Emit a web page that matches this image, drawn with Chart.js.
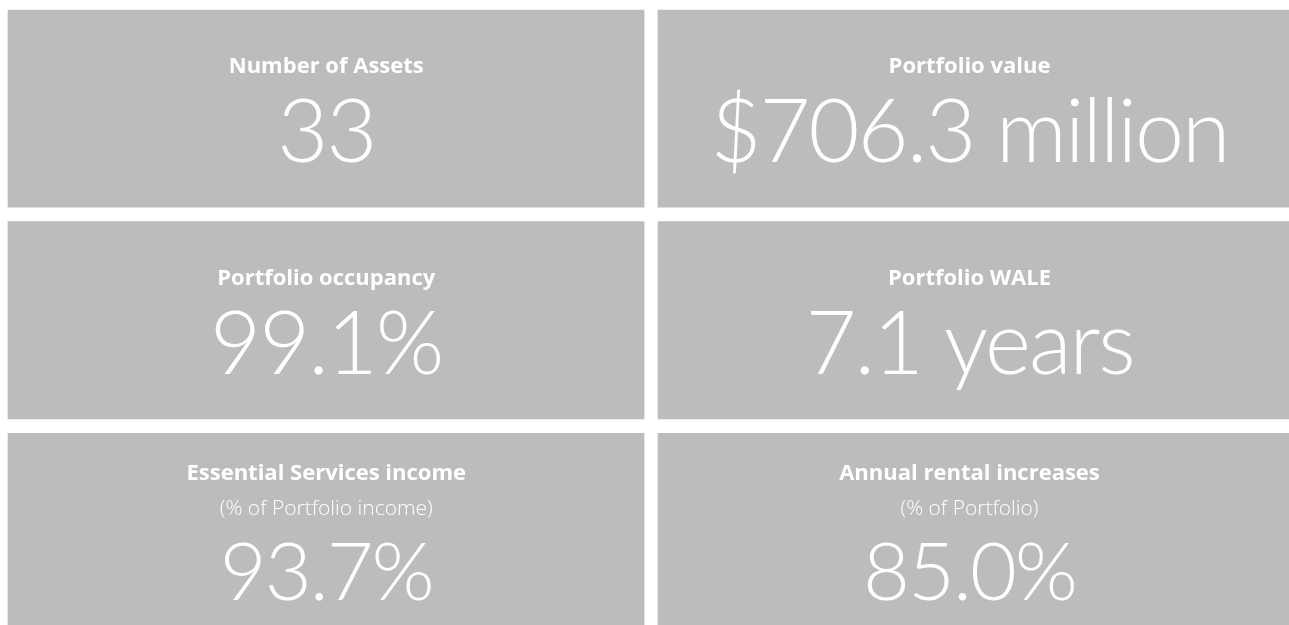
<!DOCTYPE html>
<html>
<head>
<meta charset="utf-8">
<script src="https://cdn.jsdelivr.net/npm/chart.js@4.4.1/dist/chart.umd.min.js"></script>
<style>
    html, body { margin: 0; padding: 0; background: #ffffff; overflow: hidden; }
    #wrap { width: 1289px; height: 635px; }
</style>
</head>
<body>
<div id="wrap"><canvas id="tiles" width="1289" height="635"></canvas></div>
<script>
// rows of the grid, top to bottom
const rows = ['Row 1', 'Row 2', 'Row 3'];

// left column
const leftTitles = ['Number of Assets', 'Portfolio occupancy', 'Essential Services income'];
const leftSubtitles = ['', '', '(% of Portfolio income)'];
const leftValues = ['33', '99.1%', '93.7%'];

// right column
const rightTitles = ['Portfolio value', 'Portfolio WALE', 'Annual rental increases'];
const rightSubtitles = ['', '', '(% of Portfolio)'];
const rightValues = ['$706.3 million', '7.1 years', '85.0%'];

// column spans on the x scale
const leftSpan = [0, 1];
const rightSpan = [1, 2];

const tileColor = '#bbbcbb';

function drawTiles() {
    const ctx = document.getElementById('tiles').getContext('2d');

    const textPlugin = {
        id: 'tileText',
        afterDatasetsDraw(chart) {
            const c = chart.ctx;
            chart.data.datasets.forEach((ds, di) => {
                const meta = chart.getDatasetMeta(di);
                meta.data.forEach((bar, i) => {
                    const left = Math.min(bar.base, bar.x) + ds.borderWidth.left;
                    const right = Math.max(bar.base, bar.x) - ds.textInset;
                    const cx = (left + right) / 2;
                    const top = bar.y - bar.height / 2 + ds.borderWidth.top;
                    const sub = ds.subtitles[i];

                    c.save();
                    c.fillStyle = '#ffffff';
                    c.textAlign = 'center';
                    c.textBaseline = 'alphabetic';
                    c.font = 'bold 22px "Open Sans"';
                    c.fillText(ds.titles[i], cx, top + (sub ? 47 : 63));
                    if (sub) {
                        c.font = '300 21px "Open Sans"';
                        c.fillText(sub, cx, top + 82);
                    }
                    c.font = sub ? '300 81px Lato' : '300 88px Lato';
                    c.letterSpacing = '-2px';
                    c.fillText(ds.values[i], cx, top + (sub ? 167 : 152));
                    c.restore();
                });
            });
        }
    };

    new Chart(ctx, {
        type: 'bar',
        data: {
            labels: rows,
            datasets: [{
                label: 'Left',
                data: rows.map(() => leftSpan),
                titles: leftTitles,
                subtitles: leftSubtitles,
                values: leftValues,
                backgroundColor: tileColor,
                borderColor: '#ffffff',
                borderWidth: { left: 8, right: 0, top: 10, bottom: 4.5 },
                textInset: 0,
                borderSkipped: false,
                grouped: false,
                categoryPercentage: 1,
                barPercentage: 1
            }, {
                label: 'Right',
                data: rows.map(() => rightSpan),
                titles: rightTitles,
                subtitles: rightSubtitles,
                values: rightValues,
                backgroundColor: tileColor,
                borderColor: '#ffffff',
                borderWidth: { left: 13.5, right: 0, top: 10, bottom: 4.5 },
                textInset: 8,
                borderSkipped: false,
                grouped: false,
                categoryPercentage: 1,
                barPercentage: 1
            }]
        },
        options: {
            indexAxis: 'y',
            responsive: false,
            animation: false,
            devicePixelRatio: 1,
            layout: { padding: 0 },
            scales: {
                x: { type: 'linear', min: 0, max: 2, display: false },
                y: { display: false }
            },
            plugins: {
                legend: { display: false },
                tooltip: { enabled: false }
            }
        },
        plugins: [textPlugin]
    });
}

Promise.all([
    document.fonts.load('bold 22px "Open Sans"'),
    document.fonts.load('300 21px "Open Sans"'),
    document.fonts.load('300 88px Lato')
]).then(drawTiles, drawTiles);
</script>
</body>
</html>
